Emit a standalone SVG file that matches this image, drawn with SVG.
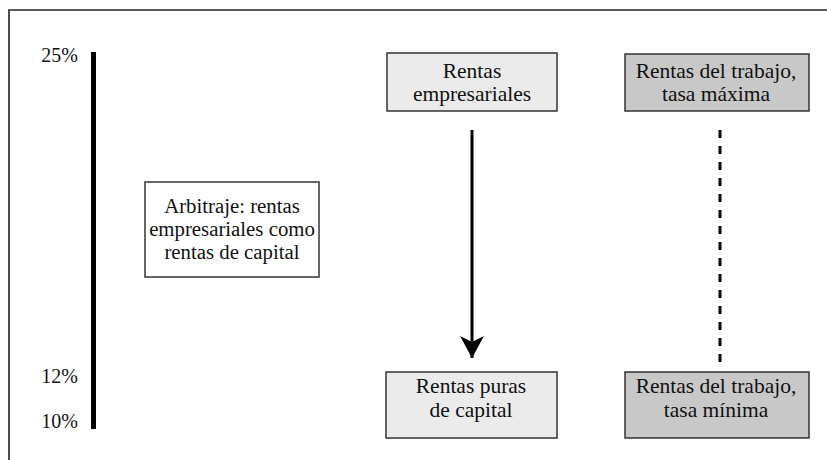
<svg xmlns="http://www.w3.org/2000/svg" width="827" height="460" viewBox="0 0 827 460">
<style>
text{font-family:"Liberation Serif","DejaVu Serif",serif;font-size:21.5px;fill:#111;text-anchor:middle}
.pct{text-anchor:end;font-size:20px}
.sm{font-size:20.8px}
.light{fill:#ebebeb;stroke:#333;stroke-width:1.5}
.dark{fill:#c8c8c8;stroke:#333;stroke-width:1.5}
.white{fill:#fff;stroke:#333;stroke-width:1.5}
</style>
<defs>
<marker id="ah" markerWidth="22" markerHeight="24" refX="22" refY="12" orient="auto" markerUnits="userSpaceOnUse" viewBox="0 0 22 24">
<path d="M0,0 L6,12 L0,24 L22,12 Z" fill="#000"/>
</marker>
</defs>
<rect width="827" height="460" fill="#fff"/>
<g id="frame">
<path d="M9,470 L9,10 L840,10" fill="none" stroke="#222" stroke-width="1.6"/>
</g>
<g id="scale">
<rect x="91" y="52" width="5" height="377" fill="#000"/>
<text class="pct" x="78" y="62">25%</text>
<text class="pct" x="78" y="383">12%</text>
<text class="pct" x="78" y="428">10%</text>
</g>
<g id="connectors">
<line x1="472" y1="130" x2="472" y2="358" stroke="#000" stroke-width="3" marker-end="url(#ah)"/>
<line x1="720" y1="130" x2="720" y2="362" stroke="#000" stroke-width="3" stroke-dasharray="8,8"/>
</g>
<g id="n-empresariales">
<rect class="light" x="387" y="53" width="170" height="58"/>
<text x="472" y="78">Rentas</text>
<text x="472" y="101">empresariales</text>
</g>
<g id="n-trabajo-max">
<rect class="dark" x="625" y="54" width="184" height="57"/>
<text x="716" y="78">Rentas del trabajo,</text>
<text x="716" y="101">tasa máxima</text>
</g>
<g id="n-arbitraje">
<rect class="white" x="145" y="182" width="174" height="95"/>
<text class="sm" x="232" y="213">Arbitraje: rentas</text>
<text class="sm" x="232" y="236">empresariales como</text>
<text class="sm" x="232" y="259">rentas de capital</text>
</g>
<g id="n-capital">
<rect class="light" x="386" y="372" width="171" height="66"/>
<text x="471" y="393">Rentas puras</text>
<text x="471" y="417">de capital</text>
</g>
<g id="n-trabajo-min">
<rect class="dark" x="625" y="372" width="184" height="66"/>
<text x="716" y="393">Rentas del trabajo,</text>
<text x="716" y="417">tasa mínima</text>
</g>
</svg>
